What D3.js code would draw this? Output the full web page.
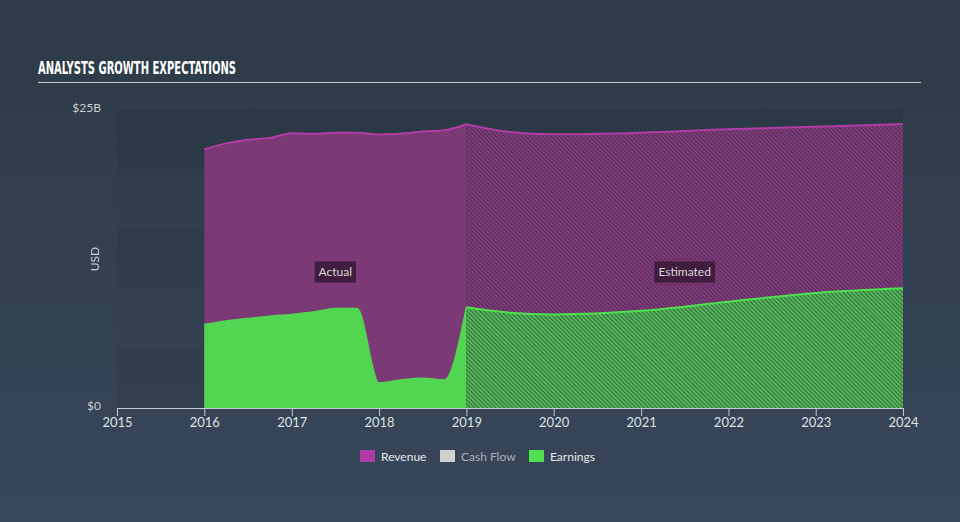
<!DOCTYPE html>
<meta charset="utf-8">
<style>
  body { margin: 0; background: #323f4d; }
  svg { display: block; font-family: 'Lato', 'Open Sans', sans-serif; }
</style>
<svg width="960" height="522"></svg>
<script src="https://cdn.jsdelivr.net/npm/d3@7"></script>
<script>
// actual (quarterly, $B)
var actualDates = ['2016-01-01', '2016-04-01', '2016-07-01', '2016-10-01', '2017-01-01', '2017-04-01', '2017-07-01',
  '2017-10-01', '2018-01-01', '2018-04-01', '2018-07-01', '2018-10-01', '2019-01-01']
var actualRevenue = [21.7, 22.2, 22.5, 22.65, 23.05, 23.0, 23.1, 23.1, 22.95, 23.0, 23.2, 23.3, 23.8]
var actualEarnings = [7.0, 7.3, 7.5, 7.7, 7.85, 8.05, 8.35, 8.35, 2.1, 2.35, 2.5, 2.35, 8.45]

// analyst estimates ($B)
var estDates = ['2019-01-01', '2019-07-01', '2020-01-01', '2021-01-01', '2022-01-01', '2023-01-01', '2024-01-01']
var estRevenue = [23.8, 23.15, 22.96, 23.1, 23.38, 23.6, 23.83]
var estEarnings = [8.45, 8.0, 7.85, 8.15, 8.92, 9.65, 10.04]

var yTicks = [0, 5, 10, 15, 20, 25]
var yLabels = ['$0', '$25B']
var legendNames = ['Revenue', 'Cash Flow', 'Earnings']

var colors = { revenue: '#b13ca6', revenueFill: '#7b3a75', cashflow: '#d0d0d0', earnings: '#4fe04f', earningsFill: '#52d652' }

var parseTime = d3.timeParse('%Y-%m-%d')
var actual = actualDates.map(function(d, i) {
  return { date: parseTime(d), revenue: actualRevenue[i], earnings: actualEarnings[i] }
})
var est = estDates.map(function(d, i) {
  return { date: parseTime(d), revenue: estRevenue[i], earnings: estEarnings[i] }
})

var svg = d3.select('svg')
var defs = svg.append('defs')

var bg = defs.append('linearGradient').attr('id', 'bg').attr('x1', 0).attr('y1', 0).attr('x2', 0).attr('y2', 1)
bg.append('stop').attr('offset', '0%').attr('stop-color', '#2d3a47')
bg.append('stop').attr('offset', '100%').attr('stop-color', '#37475a')
svg.append('rect').attr('width', 960).attr('height', 522).attr('fill', 'url(#bg)')

function hatch(id, back, stripe) {
  var p = defs.append('pattern').attr('id', id)
    .attr('patternUnits', 'userSpaceOnUse')
    .attr('width', 3).attr('height', 3)
    .attr('patternTransform', 'rotate(-45)')
  p.append('rect').attr('width', 3).attr('height', 3).attr('fill', back)
  p.append('line').attr('x1', 0.75).attr('y1', 0).attr('x2', 0.75).attr('y2', 3)
    .attr('stroke', stripe).attr('stroke-width', 1.5)
}
hatch('hatchRev', '#5c2c5e', '#86407f')
hatch('hatchEarn', '#3d6e4a', '#55cc55')

var plotLeft = 117, plotRight = 903, plotTop = 110, plotBottom = 408

var x = d3.scaleTime()
  .domain([parseTime('2015-01-01'), parseTime('2024-01-01')])
  .range([plotLeft, plotRight])
var y = d3.scaleLinear().domain([0, 25]).range([plotBottom, plotTop])

// title
svg.append('text')
  .attr('x', 38).attr('y', 74)
  .attr('fill', '#ffffff')
  .attr('textLength', 198)
  .attr('lengthAdjust', 'spacingAndGlyphs')
  .style('font-family', "'DejaVu Sans', sans-serif")
  .style('font-weight', 'bold')
  .style('font-size', '17px')
  .text('ANALYSTS GROWTH EXPECTATIONS')
svg.append('line')
  .attr('x1', 38).attr('x2', 921).attr('y1', 82.5).attr('y2', 82.5)
  .attr('stroke', '#c3c8ce').attr('stroke-width', 1)

// background bands (every other one slightly darker)
var bands = d3.pairs(yTicks)
svg.append('g').selectAll('rect')
  .data(bands)
  .join('rect')
  .attr('x', plotLeft)
  .attr('width', plotRight - plotLeft)
  .attr('y', function(d) { return y(d[1]) })
  .attr('height', function(d) { return y(d[0]) - y(d[1]) })
  .attr('fill', '#000')
  .attr('fill-opacity', function(d, i) { return i % 2 === 0 ? 0.07 : 0.015 })

var curve = d3.curveMonotoneX
function area(key) {
  return d3.area().curve(curve)
    .x(function(d) { return x(d.date) })
    .y0(y(0))
    .y1(function(d) { return y(d[key]) })
}
function line(key) {
  return d3.line().curve(curve)
    .x(function(d) { return x(d.date) })
    .y(function(d) { return y(d[key]) })
}

var g = svg.append('g')
g.append('path').datum(actual).attr('d', area('revenue')).attr('fill', colors.revenueFill)
g.append('path').datum(est).attr('d', area('revenue')).attr('fill', 'url(#hatchRev)')
g.append('path').datum(actual).attr('d', area('earnings')).attr('fill', colors.earningsFill)
g.append('path').datum(est).attr('d', area('earnings')).attr('fill', 'url(#hatchEarn)')

g.append('path').datum(actual).attr('d', line('revenue')).attr('fill', 'none')
  .attr('stroke', colors.revenue).attr('stroke-width', 2)
g.append('path').datum(est).attr('d', line('revenue')).attr('fill', 'none')
  .attr('stroke', colors.revenue).attr('stroke-width', 2)
g.append('path').datum(actual).attr('d', line('earnings')).attr('fill', 'none')
  .attr('stroke', colors.earningsFill).attr('stroke-width', 1.5)
g.append('path').datum(est).attr('d', line('earnings')).attr('fill', 'none')
  .attr('stroke', colors.earnings).attr('stroke-width', 2)

// x axis
var xAxis = svg.append('g')
  .attr('transform', 'translate(0,' + plotBottom + ')')
  .call(d3.axisBottom(x).ticks(d3.timeYear.every(1)).tickFormat(d3.timeFormat('%Y')).tickSize(8).tickSizeOuter(0))
xAxis.select('.domain').attr('stroke', '#c3cad2')
xAxis.selectAll('.tick line').attr('stroke', '#c3cad2')
xAxis.selectAll('.tick text')
  .attr('fill', '#dde1e6')
  .attr('y', 19)
  .attr('dy', 0)
  .style('font-size', '13px')
  .style('font-family', "'Lato', sans-serif")

// y labels
svg.append('g').selectAll('text')
  .data([0, 25])
  .join('text')
  .attr('x', 101)
  .attr('y', function(d) { return y(d) })
  .attr('dy', '0.15em')
  .attr('text-anchor', 'end')
  .attr('fill', '#c9ced4')
  .style('font-size', '12px')
  .text(function(d, i) { return yLabels[i] })

svg.append('text')
  .attr('transform', 'translate(99,259) rotate(-90)')
  .attr('text-anchor', 'middle')
  .attr('fill', '#c9ced4')
  .style('font-size', '12px')
  .text('USD')

// Actual / Estimated tags
function tag(text, cx) {
  var t = svg.append('g')
  var label = t.append('text')
    .attr('x', cx).attr('y', 272)
    .attr('dy', '0.35em')
    .attr('text-anchor', 'middle')
    .attr('fill', '#dcd6dc')
    .style('font-size', '12px')
    .text(text)
  var b = label.node().getBBox()
  t.insert('rect', 'text')
    .attr('x', b.x - 4).attr('y', 261.5)
    .attr('width', b.width + 8).attr('height', 21)
    .attr('fill', '#3a1b38').attr('fill-opacity', 0.9)
}
tag('Actual', (x(actual[0].date) + x(actual[actual.length - 1].date)) / 2)
tag('Estimated', (x(est[0].date) + x(est[est.length - 1].date)) / 2)

// legend
var legendColors = [colors.revenue, colors.cashflow, colors.earnings]
var legendText = ['#e6e8ea', '#a9b0b8', '#e6e8ea']
var legendX = [360, 440, 529]
var legend = svg.append('g').selectAll('g')
  .data(legendNames)
  .join('g')
  .attr('transform', function(d, i) { return 'translate(' + legendX[i] + ',450)' })
legend.append('rect').attr('width', 15).attr('height', 12)
  .attr('fill', function(d, i) { return legendColors[i] })
legend.append('text')
  .attr('x', 21).attr('y', 10.5)
  .attr('fill', function(d, i) { return legendText[i] })
  .style('font-size', '12px')
  .text(function(d) { return d })
</script>
